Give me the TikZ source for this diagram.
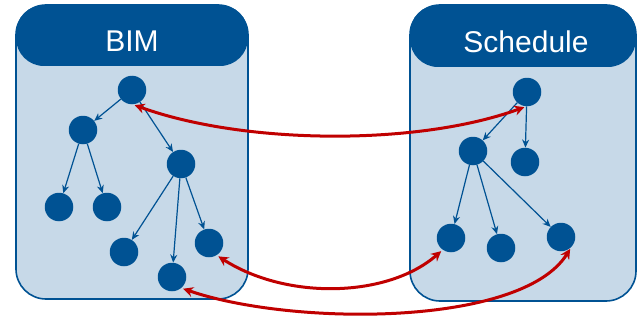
\documentclass[tikz,border=0pt]{standalone}
\usepackage{fontspec}
\setmainfont{Liberation Sans}
\usetikzlibrary{arrows.meta}

\definecolor{boxblue}{RGB}{0,82,147}
\definecolor{boxfill}{RGB}{199,217,232}
\definecolor{linkred}{RGB}{192,0,0}

\tikzset{
    item/.style={circle, fill=boxblue, minimum size=28.5pt, inner sep=0pt},
    child/.style={draw=boxblue, line width=1.2pt, -{Stealth[length=8pt,width=7pt]}},
    link/.style={draw=linkred, line width=3pt, shorten <=2pt, shorten >=2pt,
        {Stealth[length=10pt,width=10pt]}-{Stealth[length=10pt,width=10pt]}},
    body/.style={draw=boxblue, fill=boxfill, line width=1.6pt, rounded corners=30pt},
    head/.style={fill=boxblue, rounded corners=28pt},
    title/.style={text=white, anchor=base, font=\fontsize{30}{30}\selectfont},
}

\begin{document}
\begin{tikzpicture}[x=1pt, y=-1pt]
    \useasboundingbox (0,0) rectangle (637,321);

    % Draw the two boxes
    \draw[body] (16,5) rectangle (248,299);
    \fill[head] (16,5) rectangle (248,66);
    \draw[body] (410,5) rectangle (636,301);
    \fill[head] (410,5) rectangle (636,67);

    % Place the box titles
    \node[title] (bimtitle) at (132,52) {BIM};
    \node[title] (schtitle) at (526,52.5) {Schedule};

    % Define the BIM tree
    \node[item] (b0) at (132,90) {};
    \node[item] (b1) at (83,130) {};
    \node[item] (b2) at (181,164) {};
    \node[item] (b3) at (59,207) {};
    \node[item] (b4) at (107,207) {};
    \node[item] (b5) at (124,252) {};
    \node[item] (b6) at (172,277) {};
    \node[item] (b7) at (209,243) {};

    \draw[child] (b0) -- (b1);
    \draw[child] (b0) -- (b2);
    \draw[child] (b1) -- (b3);
    \draw[child] (b1) -- (b4);
    \draw[child] (b2) -- (b5);
    \draw[child] (b2) -- (b6);
    \draw[child] (b2) -- (b7);

    % Define the schedule tree
    \node[item] (s0) at (527,92) {};
    \node[item] (s1) at (473,151) {};
    \node[item] (s2) at (525,162) {};
    \node[item] (s3) at (451,238) {};
    \node[item] (s4) at (501,248) {};
    \node[item] (s5) at (561,237) {};

    \draw[child] (s0) -- (s1);
    \draw[child] (s0) -- (s2);
    \draw[child] (s1) -- (s3);
    \draw[child] (s1) -- (s4);
    \draw[child] (s1) -- (s5);

    % Draw the links between both trees
    \draw[link] (b0.-87) .. controls +(110,40) and +(-110,40) .. (s0.-93);
    \draw[link] (b7.-58) .. controls +(70,45) and +(-55,48) .. (s3.-125);
    \draw[link] (b6.-50) .. controls +(110,38) and +(-50,80) .. (s5.-45);

\end{tikzpicture}
\end{document}
